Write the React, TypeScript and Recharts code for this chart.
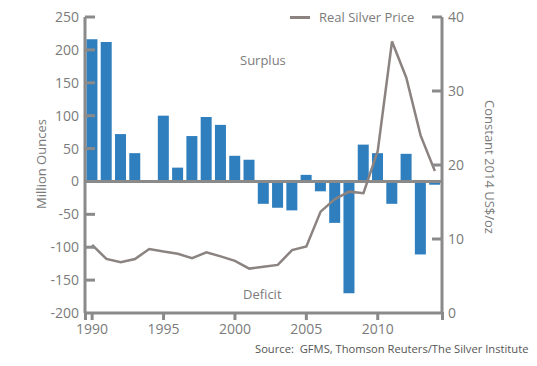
import { Bar, ComposedChart, Line, ReferenceLine, XAxis, YAxis } from "recharts";

const years = [
  1990, 1991, 1992, 1993, 1994, 1995, 1996, 1997, 1998, 1999, 2000, 2001, 2002,
  2003, 2004, 2005, 2006, 2007, 2008, 2009, 2010, 2011, 2012, 2013, 2014,
];
const surplus = [
  216, 212, 72, 43, -2, 100, 21, 69, 98, 86, 39, 33, -34, -40, -44, 10, -15, -63, -170, 56, 43, -34, 42,
  -111, -5,
];
const price = [
  9.2, 7.3, 6.85, 7.3, 8.65, 8.3, 8.0, 7.4, 8.2, 7.65, 7.05, 6.0, 6.25, 6.5, 8.5, 9.0, 13.7, 15.4, 16.4,
  16.2, 21.9, 36.7, 31.8, 24.0, 19.2,
];
const leftTicks = [-200, -150, -100, -50, 0, 50, 100, 150, 200, 250];
const rightTicks = [0, 10, 20, 30, 40];

const BLUE = "#2f7ebd";
const AXIS = "#8a8a8a";
const TXT = "#7b7b7b";
const LINE = "#8b8380";
const FONT = "'Open Sans', sans-serif";

const data = years.map((year, i) => ({ year, surplus: surplus[i], price: price[i] }));

const LeftTick = (p: any) => {
  const { x, y, payload } = p;
  return (
    <g>
      {payload.value !== -200 && payload.value !== 0 && (
        <line x1={x + 6} x2={x + 16} y1={y} y2={y} stroke={AXIS} strokeWidth={3} />
      )}
      <text x={x} y={y} dy={5} textAnchor="end" fill={TXT} fontSize={14} fontFamily={FONT}>
        {payload.value}
      </text>
    </g>
  );
};

const RightTick = (p: any) => {
  const { x, y, payload } = p;
  return (
    <g>
      {payload.value !== 0 && <line x1={x - 6} x2={x - 16} y1={y} y2={y} stroke={AXIS} strokeWidth={3} />}
      <text x={x} y={y} dy={5} textAnchor="start" fill={TXT} fontSize={14} fontFamily={FONT}>
        {payload.value}
      </text>
    </g>
  );
};

const label = { position: "absolute" as const, fontFamily: FONT, fontSize: 13, color: TXT, whiteSpace: "nowrap" as const };
const stub = { position: "absolute" as const, top: 312, width: 3, height: 8, background: AXIS };

export default function App() {
  return (
    <div style={{ position: "absolute", left: 0, top: 0, width: 537, height: 366, background: "#fff" }}>
      <ComposedChart width={537} height={366} data={data} margin={{ top: 17, right: 0, bottom: 0, left: 0 }} barCategoryGap="10%">
        <XAxis
          dataKey="year"
          interval={4}
          height={53}
          tickSize={7}
          tickMargin={4}
          axisLine={{ stroke: AXIS, strokeWidth: 3 }}
          tickLine={{ stroke: AXIS, strokeWidth: 3 }}
          tick={{ fill: TXT, fontSize: 14, fontFamily: FONT }}
        />
        <YAxis
          yAxisId="left"
          width={85}
          domain={[-200, 250]}
          ticks={leftTicks}
          tickSize={0}
          tickMargin={6}
          axisLine={{ stroke: AXIS, strokeWidth: 3 }}
          tickLine={false}
          tick={LeftTick}
          allowDataOverflow
        />
        <YAxis
          yAxisId="right"
          orientation="right"
          width={95}
          domain={[0, 40]}
          ticks={rightTicks}
          tickSize={0}
          tickMargin={6}
          axisLine={{ stroke: AXIS, strokeWidth: 3 }}
          tickLine={false}
          tick={RightTick}
        />
        <Bar yAxisId="left" dataKey="surplus" fill={BLUE} isAnimationActive={false} />
        <ReferenceLine yAxisId="left" y={0} stroke={AXIS} strokeWidth={3} />
        <Line
          yAxisId="right"
          dataKey="price"
          name="Real Silver Price"
          type="linear"
          stroke={LINE}
          strokeWidth={2.5}
          dot={false}
          isAnimationActive={false}
        />
      </ComposedChart>
      <div style={{ ...stub, left: 83.5 }} />
      <div style={{ ...stub, left: 440.5 }} />
      <div style={{ ...label, left: 290, top: 8, display: "flex", alignItems: "center" }}>
        <span style={{ display: "inline-block", width: 20, height: 3, background: LINE, marginRight: 9 }} />
        Real Silver Price
      </div>
      <div style={{ ...label, left: 240, top: 51 }}>Surplus</div>
      <div style={{ ...label, left: 243, top: 285 }}>Deficit</div>
      <div style={{ ...label, left: 41, top: 164, transform: "translate(-50%, -50%) rotate(-90deg)" }}>
        Million Ounces
      </div>
      <div style={{ ...label, left: 490, top: 167, transform: "translate(-50%, -50%) rotate(90deg)" }}>
        Constant 2014 US$/oz
      </div>
      <div style={{ ...label, left: 255, top: 341, fontSize: 11.2, color: "#555" }}>
        Source:&nbsp; GFMS, Thomson Reuters/The Silver Institute
      </div>
    </div>
  );
}
